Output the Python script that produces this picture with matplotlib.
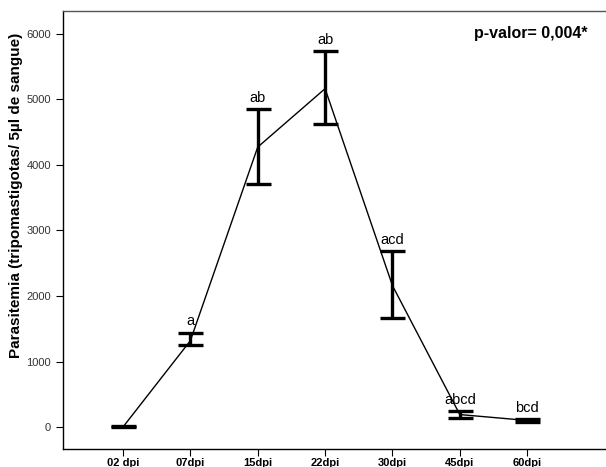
import numpy as np
import matplotlib
matplotlib.use("Agg")
import matplotlib.pyplot as plt

plt.rcParams['font.family'] = ['Liberation Sans', 'DejaVu Sans']

# --- data ---
days = ['02 dpi', '07dpi', '15dpi', '22dpi', '30dpi', '45dpi', '60dpi']
means = [5, 1320, 4270, 5160, 2160, 195, 105]
err_low = [5, 1250, 3700, 4620, 1660, 145, 80]
err_high = [15, 1445, 4855, 5735, 2680, 245, 130]
letters = ['', 'a', 'ab', 'ab', 'acd', 'abcd', 'bcd']

x = np.arange(len(days))
lower = np.array(means) - np.array(err_low)
upper = np.array(err_high) - np.array(means)

fig = plt.figure(figsize=(6.06, 4.67), dpi=100)
ax = fig.add_axes([0.104, 0.0385, 0.896, 0.9375])

ax.plot(x, means, color='black', linewidth=1.0, zorder=3)
ax.errorbar(x, means, yerr=[lower, upper], fmt='none', ecolor='black',
            elinewidth=2.4, capsize=9, capthick=2.4, zorder=4)

for xi, top, lab in zip(x, err_high, letters):
    if lab:
        ax.annotate(lab, xy=(xi, top), xytext=(0, 3), textcoords='offset points',
                    ha='center', va='bottom', fontsize=10.5)

ax.text(0.862, 0.95, 'p-valor= 0,004*', transform=ax.transAxes,
        fontsize=11.5, fontweight='bold', ha='center', va='center')

ax.set_xlim(-0.89, 7.17)
ax.set_ylim(-330, 6340)
ax.set_xticks(x)
ax.set_xticklabels(days, fontsize=8, fontweight='bold')
ax.set_yticks([0, 1000, 2000, 3000, 4000, 5000, 6000])
ax.tick_params(axis='y', labelsize=8, labelcolor='#333333', length=5, width=0.8)
ax.tick_params(axis='x', length=5, width=0.8, pad=1.5)
ax.set_ylabel('Parasitemia (tripomastigotas/ 5µl de sangue)', fontsize=11,
              fontweight='bold')
ax.yaxis.set_label_coords(-0.074, 0.58)

ax.spines['right'].set_visible(False)
for s in ['left', 'bottom', 'top']:
    ax.spines[s].set_linewidth(1.0)
ax.spines['top'].set_color('#555555')

fig.savefig('out.png', dpi=100)
